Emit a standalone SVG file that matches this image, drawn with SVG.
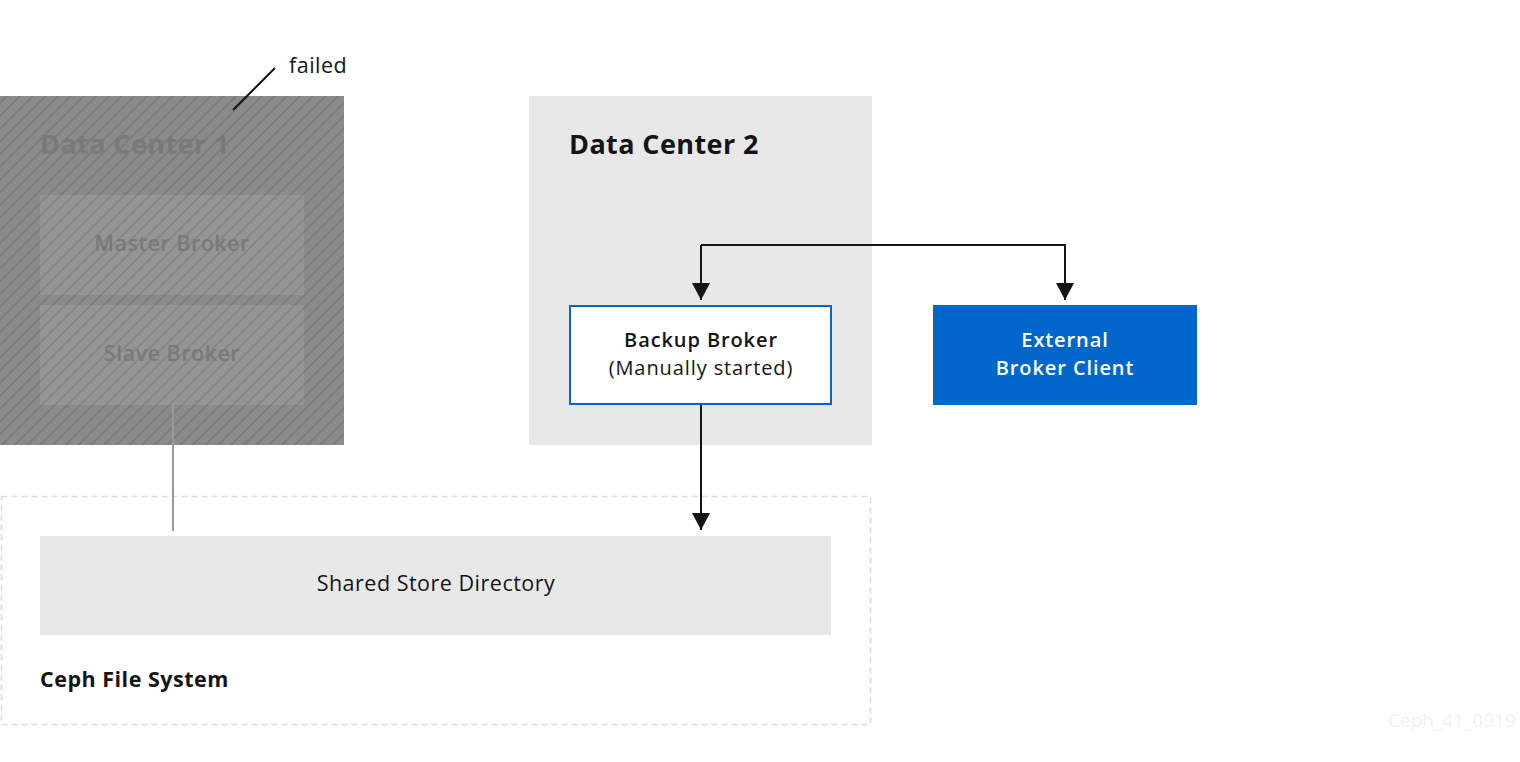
<svg xmlns="http://www.w3.org/2000/svg" width="1520" height="762" viewBox="0 0 1520 762">
<style>
text{font-family:"Open Sans","Liberation Sans",sans-serif;}
.t{font-size:21.5px;fill:#151515;letter-spacing:0.5px;}
.t2{font-size:20px;letter-spacing:0.9px;}
.h{font-size:27px;font-weight:700;letter-spacing:0.4px;}
.b{font-weight:700;}
.m{font-weight:600;}
.c{text-anchor:middle;}
.gray{fill:#797979;}
.conn{fill:none;stroke:#151515;stroke-width:2;}
</style>
<defs>
<pattern id="stripes" patternUnits="userSpaceOnUse" width="9" height="9" patternTransform="rotate(45)">
<rect width="9" height="9" fill="#8b8b8b"/>
<rect width="2" height="9" fill="#7c7c7c"/>
</pattern>
<pattern id="stripes2" patternUnits="userSpaceOnUse" width="9" height="9" patternTransform="rotate(45)">
<rect width="9" height="9" fill="#959595"/>
<rect width="2" height="9" fill="#868686"/>
</pattern>
<marker id="arr" markerWidth="20" markerHeight="18" refX="17" refY="9" orient="auto" markerUnits="userSpaceOnUse">
<path d="M0,0 L17,9 L0,18 Z" fill="#151515"/>
</marker>
</defs>
<rect width="1520" height="762" fill="#fff"/>
<g id="dc1">
<rect x="0" y="96" width="344" height="349" fill="url(#stripes)"/>
<text x="40" y="154" class="h gray">Data Center 1</text>
</g>
<g id="master">
<rect x="40" y="195" width="264" height="100" fill="url(#stripes2)"/>
<text x="172" y="251" class="t m c gray">Master Broker</text>
</g>
<g id="slave">
<rect x="40" y="305" width="264" height="100" fill="url(#stripes2)"/>
<text x="172" y="361" class="t m c gray">Slave Broker</text>
</g>
<g id="failed">
<line x1="275" y1="68" x2="233" y2="110" stroke="#151515" stroke-width="2"/>
<text x="289" y="73" class="t">failed</text>
</g>
<g id="dc2">
<rect x="529" y="96" width="343" height="349" fill="#e8e8e8"/>
<text x="569" y="154" class="h" style="fill:#151515">Data Center 2</text>
</g>
<g id="ceph">
<rect x="1.5" y="496.5" width="869" height="228" fill="none" stroke="#dcdcdc" stroke-width="1.5" stroke-dasharray="6,4"/>
<text x="40" y="687" class="t b">Ceph File System</text>
</g>
<g id="shared">
<rect x="40" y="536" width="791" height="99" fill="#e8e8e8"/>
<text x="436" y="591" class="t c">Shared Store Directory</text>
</g>
<g id="backup">
<rect x="570" y="306" width="261" height="98" fill="#fff" stroke="#0066cc" stroke-width="2"/>
<text x="701" y="347" class="t t2 m c">Backup Broker</text>
<text x="701" y="375" class="t t2 c">(Manually started)</text>
</g>
<g id="client">
<rect x="933" y="305" width="264" height="100" fill="#0066cc"/>
<text x="1065" y="347" class="t t2 m c" style="fill:#fff">External</text>
<text x="1065" y="375" class="t t2 m c" style="fill:#fff">Broker Client</text>
</g>
<g id="connectors">
<line x1="173" y1="405" x2="173" y2="531" stroke="#999" stroke-width="2"/>
<path class="conn" d="M701,245 L701,300" marker-end="url(#arr)"/>
<path class="conn" d="M701,245 L1065,245 L1065,300" marker-end="url(#arr)"/>
<path class="conn" d="M701,405 L701,530" marker-end="url(#arr)"/>
</g>
<text x="1388" y="727" style="font-size:19px;fill:#f2f2f2">Ceph_41_0919</text>
</svg>
